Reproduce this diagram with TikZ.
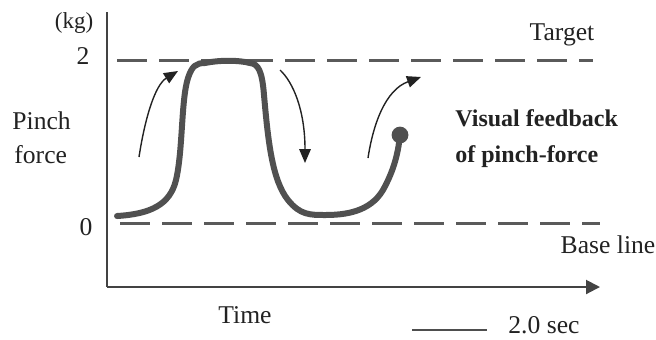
\documentclass[tikz,border=0pt]{standalone}
\usepackage{fontspec}
\setmainfont{Liberation Serif}
\usetikzlibrary{arrows.meta}
\definecolor{ink}{HTML}{222222}
\definecolor{curvegray}{HTML}{505050}
\definecolor{dashgray}{HTML}{5A5A5A}
\begin{document}
\begin{tikzpicture}[x=0.5pt,y=-0.5pt,
  lbl/.style={inner sep=0pt,text=ink,font=\fontsize{12.8}{15}\selectfont},
  small/.style={inner sep=0pt,text=ink,font=\fontsize{11.5}{13}\selectfont},
  boldlbl/.style={inner sep=0pt,text=ink,font=\fontsize{12}{14}\selectfont\bfseries},
  axis/.style={draw=ink!85,line width=1pt},
  refline/.style={draw=dashgray,line width=1.5pt,dash pattern=on 15pt off 6pt},
  force/.style={draw=curvegray,line width=3pt,line cap=round,line join=round},
  hint/.style={draw=ink,line width=0.7pt,-{Triangle[length=7pt,width=5.8pt]}}]
\useasboundingbox (0,0) rectangle (656,339);
% axes
\coordinate (ytop) at (107,12);
\coordinate (origin) at (107,287);
\coordinate (xend) at (600,287);
\draw[axis] (ytop) -- (origin);
\draw[axis,-{Triangle[length=7pt,width=7pt]}] (origin) -- (xend);
% reference lines
\coordinate (t1) at (117,60);
\coordinate (t2) at (593,60);
\coordinate (b1) at (120,223);
\coordinate (b2) at (600,223);
\draw[refline] (t1) -- (t2);
\draw[refline] (b1) -- (b2);
% labels
\node[small,anchor=center] (kg) at (74,23) {(kg)};
\node[lbl,anchor=center] (two) at (83,56) {2};
\node[lbl,anchor=center] (zero) at (86,227) {0};
\node[lbl,anchor=base west] (pinch) at (12,129) {Pinch};
\node[lbl,anchor=base west] (forcelbl) at (14,163) {force};
\node[lbl,anchor=base] (time) at (245,323) {Time};
\node[lbl,anchor=base] (target) at (562,40) {Target};
\node[lbl,anchor=base] (base) at (608,253) {Base line};
\node[boldlbl,anchor=base west] (vf1) at (455,126) {Visual feedback};
\node[boldlbl,anchor=base west] (vf2) at (455,162) {of pinch-force};
\node[lbl,anchor=base west] (sec) at (508,333) {2.0 sec};
\coordinate (s1) at (412,330);
\coordinate (s2) at (487,330);
\draw[draw=ink!80,line width=0.9pt] (s1) -- (s2);
% force curve
\coordinate (c0) at (117,216);
\coordinate (dot) at (400,135);
\draw[force] (c0) .. controls (150,214) and (170,205) .. (176,180)
  .. controls (183,150) and (181,100) .. (188,78)
  .. controls (192,66) and (196,63) .. (205,63)
  .. controls (220,60) and (238,60) .. (250,63)
  .. controls (258,64) and (262,70) .. (264,95)
  .. controls (268,140) and (272,180) .. (288,200)
  .. controls (300,215) and (310,215) .. (325,215)
  .. controls (345,215) and (370,212) .. (383,190)
  .. controls (393,172) and (398,155) .. (dot);
\fill[curvegray] (dot) circle (4.2pt);
% hint arrows
\coordinate (a1s) at (139,157);
\coordinate (a1e) at (178,71);
\coordinate (a2s) at (280,70);
\coordinate (a2e) at (305,163);
\coordinate (a3s) at (368,158);
\coordinate (a3e) at (421,77);
\draw[hint] (a1s) .. controls (145,118) and (155,85) .. (a1e);
\draw[hint] (a2s) .. controls (293,82) and (305,110) .. (a2e);
\draw[hint] (a3s) .. controls (373,125) and (385,90) .. (a3e);
\end{tikzpicture}
\end{document}
